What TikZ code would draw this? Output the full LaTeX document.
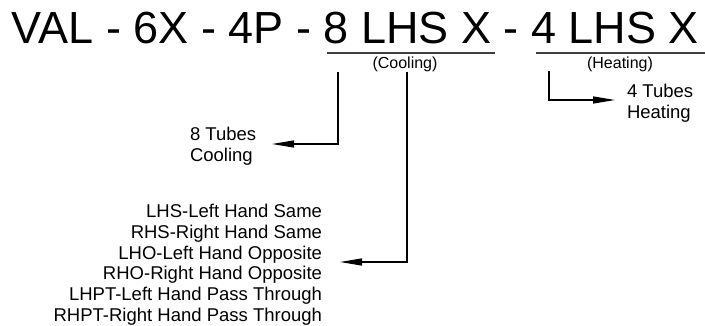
\documentclass[tikz,border=0pt]{standalone}
\usepackage{fontspec}
\setmainfont{Liberation Sans}
\usetikzlibrary{arrows.meta,positioning}
\tikzset{
  every node/.style={inner sep=0pt, outer sep=0pt},
  code/.style={font=\fontsize{45}{45}\selectfont, anchor=base west},
  rule/.style={draw=black!75, line width=1.5pt},
  tag/.style={font=\fontsize{16}{18}\selectfont, anchor=base},
  note/.style={font=\fontsize{18.5}{21.5}\selectfont},
  pointer/.style={-{Triangle[length=22pt,width=7pt]}, draw=black,
    line width=1.3pt}
}
\begin{document}
\begin{tikzpicture}[x=1pt,y=-1pt]
\useasboundingbox (0,0) rectangle (705,326);

% Model code with the two underlined tube groups
\node[code] (model) at (12,43.5) {VAL - 6X - 4P - 8 LHS X - 4 LHS X};
\draw[rule] (327,53) coordinate (coolL) -- (495,53) coordinate (coolR);
\draw[rule] (536,53) coordinate (heatL) -- (705,53) coordinate (heatR);
\node[tag] (cooling) at (405,69) {(Cooling)};
\node[tag] (heating) at (620,69) {(Heating)};

% Explanations
\node[note, align=left, anchor=north west] (tubes8) at (190,127)
  {8 Tubes\\Cooling};
\node[note, align=left, anchor=north west] (tubes4) at (627,84)
  {4 Tubes\\Heating};
\node[note, align=right, anchor=north east,
  font=\fontsize{18.5}{20.8}\selectfont] (types) at (322,204)
  {LHS-Left Hand Same\\RHS-Right Hand Same\\LHO-Left Hand Opposite\\
   RHO-Right Hand Opposite\\LHPT-Left Hand Pass Through\\
   RHPT-Right Hand Pass Through};

% Leader lines
\coordinate (count8) at (338,72);
\coordinate (hand8) at (407,72);
\coordinate (count4) at (549,71);
\coordinate (tip8) at (272,144);
\coordinate (tiptypes) at (340,262);
\coordinate (tip4) at (615,100);

\draw[pointer] (count8) |- (tip8);
\draw[pointer] (hand8) |- (tiptypes);
\draw[pointer] (count4) |- (tip4);

\end{tikzpicture}
\end{document}
